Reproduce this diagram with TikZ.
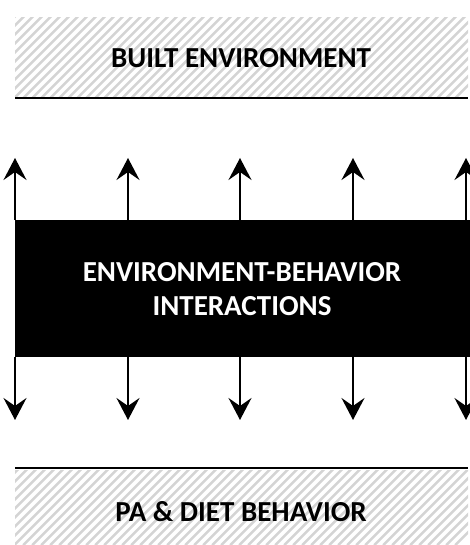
\documentclass[tikz,border=0pt]{standalone}
\usepackage{fontspec}
\setmainfont{Carlito}
\usetikzlibrary{arrows.meta,calc}
\definecolor{hatchgray}{RGB}{212,212,212}
\tikzset{
  hatched/.style={inner sep=0pt, minimum width=453pt, anchor=north west,
    path picture={
      \foreach \k in {-12,...,60}
        \draw[hatchgray, line width=2.6pt]
          ($(path picture bounding box.south west)+(\k*9pt-100pt,0)$) -- ++(100pt,100pt);
    }},
  lbl/.style={font=\bfseries\fontsize{29}{34}\selectfont, text=black},
  rule/.style={line width=2pt, black},
  link/.style={line width=2.2pt, -{Stealth[length=22pt,width=23pt,inset=8pt]}},
}
\begin{document}
\begin{tikzpicture}[x=1pt,y=1pt]
  \useasboundingbox (0,0) rectangle (470,545);
  % built environment band
  \node[hatched, minimum height=81pt] (built) at (15,528) {};
  \node[lbl] (builttext) at (241,487) {BUILT ENVIRONMENT};
  \draw[rule] (built.south west) -- (built.south east);
  % behaviour band
  \node[hatched, minimum height=75pt] (pa) at (15,75) {};
  \node[lbl] (patext) at (241,33) {PA \& DIET BEHAVIOR};
  \draw[rule] ($(pa.north west)+(0,2)$) -- ($(pa.north east)+(0,2)$);
  % interactions block
  \node[fill=black, anchor=north west, minimum width=455pt, minimum height=137pt, inner sep=0pt] (core) at (15,325) {};
  \node[lbl, text=white, align=center] (coretext) at (242,256)
    {ENVIRONMENT-BEHAVIOR\\INTERACTIONS};
  % arrows leaving the block
  \foreach \i/\xx in {1/15,2/128,3/240,4/353,5/466}{
    \coordinate (up\i) at (\xx,387);
    \coordinate (dn\i) at (\xx,125);
    \draw[link] (\xx,325) coordinate (ct\i) -- (up\i);
    \draw[link] (\xx,188) coordinate (cb\i) -- (dn\i);
  }
\end{tikzpicture}
\end{document}
